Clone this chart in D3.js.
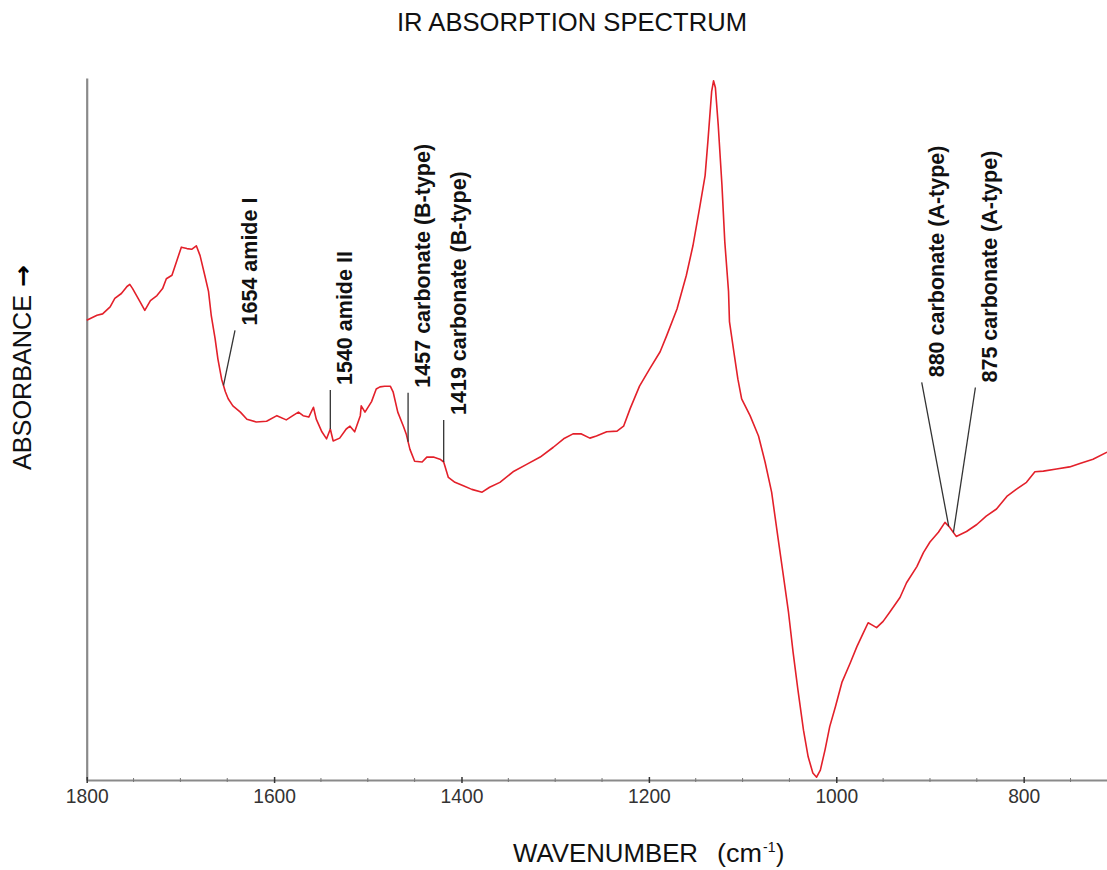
<!DOCTYPE html>
<html>
<head>
<meta charset="utf-8">
<script src="https://cdn.jsdelivr.net/npm/d3@7"></script>
<style>
  html, body { margin: 0; padding: 0; background: #fff; }
  svg { display: block; font-family: "Liberation Sans", Arial, sans-serif; }
</style>
</head>
<body>
<svg id="chart" width="1107" height="870"></svg>
<script>
// ---- data ----
const wavenumbers = [
  1800,1789,1783,1775,1770,1763,1757,1754,1751,1743,
  1738,1732,1725,1719,1715,1709,1704,1699,1693,1688,
  1683,1679,1674,1670,1667,1663,1660,1656,1652,1649,
  1644,1636,1629,1619,1608,1597,1587,1580,1574,1569,
  1563,1558,1555,1549,1544,1540,1537,1530,1523,1519,
  1514,1508,1507,1503,1496,1491,1487,1482,1476,1473,
  1468,1462,1459,1455,1450,1442,1437,1430,1423,1419,
  1414,1407,1398,1389,1378,1370,1359,1345,1330,1316,
  1302,1291,1281,1272,1263,1256,1245,1234,1227,1220,
  1210,1199,1188,1181,1170,1160,1153,1146,1140,1137,
  1133,1131,1129,1126,1122,1119,1115,1114,1109,1105,
  1101,1092,1083,1076,1069,1062,1057,1051,1046,1041,
  1035,1030,1025,1021,1017,1012,1007,1001,994,985,
  978,971,966,962,957,950,943,932,925,914,
  907,900,891,884,879,872,861,850,840,829,
  818,808,797,788,779,765,751,740,726,711
];
const absorbance = [
  .655,.662,.664,.674,.686,.693,.703,.706,.700,.681,
  .669,.683,.690,.700,.714,.719,.739,.759,.757,.756,
  .761,.747,.719,.696,.661,.629,.600,.571,.553,.543,
  .533,.524,.514,.510,.511,.519,.513,.519,.524,.519,
  .517,.531,.514,.496,.486,.500,.483,.487,.500,.504,
  .496,.519,.533,.524,.539,.557,.560,.561,.561,.553,
  .524,.504,.493,.471,.454,.453,.460,.460,.457,.453,
  .431,.424,.419,.414,.410,.417,.424,.439,.450,.460,
  .474,.486,.493,.493,.487,.490,.496,.497,.504,.529,
  .561,.586,.610,.633,.671,.719,.761,.814,.861,.910,
  .981,.996,.986,.933,.847,.767,.696,.653,.607,.571,
  .543,.519,.490,.453,.410,.343,.296,.239,.181,.129,
  .071,.033,.010,.004,.014,.043,.076,.104,.139,.167,
  .190,.210,.224,.221,.217,.226,.239,.260,.281,.304,
  .324,.339,.353,.367,.360,.347,.354,.364,.376,.386,
  .404,.414,.424,.439,.440,.443,.446,.451,.457,.467
];
const majorTicks = [1800, 1600, 1400, 1200, 1000, 800];
const minorTicks = [1750,1700,1650,1550,1500,1450,1350,1300,1250,1150,1100,1050,950,900,850,750];
const peakWaves  = [1654, 1540, 1457, 1419, 880, 875];
const peakLabels = ["1654 amide I", "1540 amide II", "1457 carbonate (B-type)",
                    "1419 carbonate (B-type)", "880 carbonate (A-type)", "875 carbonate (A-type)"];
const titleText = "IR ABSORPTION SPECTRUM";
const yLabelText = "ABSORBANCE";

// ---- layout ----
const svg = d3.select("#chart");
const x = d3.scaleLinear().domain([1800, 710]).range([86.7, 1108]);
const y = d3.scaleLinear().domain([0, 1]).range([780, 78]);
// leader-line offsets (px) from the curve point to the top of the leader
const leaderOffsets = [[11.5,-55],[0,-39],[0,-49],[0,-42],[-27,-144],[22,-145]];

const pts = wavenumbers.map((w, i) => ({w, a: absorbance[i]}));
function absAt(w) {
  for (let i = 0; i < pts.length - 1; i++) {
    const p = pts[i], q = pts[i+1];
    if (w <= p.w && w >= q.w) {
      const t = (p.w - w) / (p.w - q.w);
      return p.a + t * (q.a - p.a);
    }
  }
  return pts[pts.length-1].a;
}

// title
svg.append("text").attr("x", 572).attr("y", 31).attr("text-anchor", "middle")
  .attr("font-size", 26).attr("fill", "#111")
  .attr("textLength", 350).attr("lengthAdjust", "spacingAndGlyphs")
  .text(titleText);

// y axis (line only)
const yAxis = d3.axisLeft(y).tickValues([]).tickSizeOuter(0);
svg.append("g").attr("transform", `translate(${x(1800)},0)`).call(yAxis)
  .select(".domain").attr("stroke", "#8a8a8a").attr("stroke-width", 2.2);

// x axis
const xAxis = d3.axisBottom(x).tickValues(majorTicks).tickFormat(d3.format("d"))
  .tickSizeOuter(0).tickSize(0).tickPadding(0);
const gx = svg.append("g").attr("transform", `translate(0,${y(0)})`).call(xAxis);
gx.select(".domain").attr("stroke", "#8a8a8a").attr("stroke-width", 2.2);
gx.selectAll(".tick text")
  .attr("y", 23).attr("dy", 0)
  .attr("font-size", 21).attr("fill", "#333")
  .attr("font-family", "Liberation Sans, Arial, sans-serif")
  .attr("textLength", d => String(d).length * 10.7).attr("lengthAdjust", "spacingAndGlyphs");
gx.selectAll(".tick line").attr("y1", -3).attr("y2", 3).attr("stroke", "#333").attr("stroke-width", 1.5);
gx.selectAll(".minor").data(minorTicks).enter().append("line")
  .attr("class", "minor")
  .attr("x1", d => x(d)).attr("x2", d => x(d)).attr("y1", -2).attr("y2", 2)
  .attr("stroke", "#777").attr("stroke-width", 1);

// x label
svg.append("text").attr("x", 513).attr("y", 862).attr("font-size", 25).attr("fill", "#111")
  .attr("textLength", 185).attr("lengthAdjust", "spacingAndGlyphs").text("WAVENUMBER");
svg.append("text").attr("x", 717).attr("y", 862).attr("font-size", 25).attr("fill", "#111")
  .attr("textLength", 45).attr("lengthAdjust", "spacingAndGlyphs").text("(cm");
svg.append("text").attr("x", 763).attr("y", 852).attr("font-size", 14).attr("fill", "#111")
  .text("-1");
svg.append("text").attr("x", 776).attr("y", 862).attr("font-size", 25).attr("fill", "#111")
  .text(")");

// y label
svg.append("text").attr("transform", "translate(31,470) rotate(-90)")
  .attr("font-size", 26).attr("fill", "#111")
  .attr("textLength", 175).attr("lengthAdjust", "spacingAndGlyphs").text(yLabelText);
svg.append("text").attr("transform", "translate(31,287) rotate(-90)")
  .attr("font-size", 24).attr("font-weight", "bold").attr("fill", "#000")
  .attr("font-family", "DejaVu Sans, sans-serif")
  .attr("textLength", 22).attr("lengthAdjust", "spacingAndGlyphs").text("\u2192");

// spectrum
const line = d3.line().x(d => x(d.w)).y(d => y(d.a));
svg.append("path").datum(pts).attr("d", line)
  .attr("fill", "none").attr("stroke", "#e3202a").attr("stroke-width", 1.6)
  .attr("stroke-linejoin", "round");

// annotations
peakWaves.forEach((w, i) => {
  const tx = x(w), ty = y(absAt(w));
  const [dx, dy] = leaderOffsets[i];
  const topX = tx + dx, topY = ty + dy;
  svg.append("line").attr("x1", tx).attr("y1", ty).attr("x2", topX).attr("y2", topY)
    .attr("stroke", "#333").attr("stroke-width", 1.3);
  svg.append("text")
    .attr("transform", `translate(${topX + 22},${topY - 5}) rotate(-90)`)
    .attr("font-size", 21.5).attr("font-weight", "bold").attr("fill", "#111")
    .text(peakLabels[i]);
});
</script>
</body>
</html>
